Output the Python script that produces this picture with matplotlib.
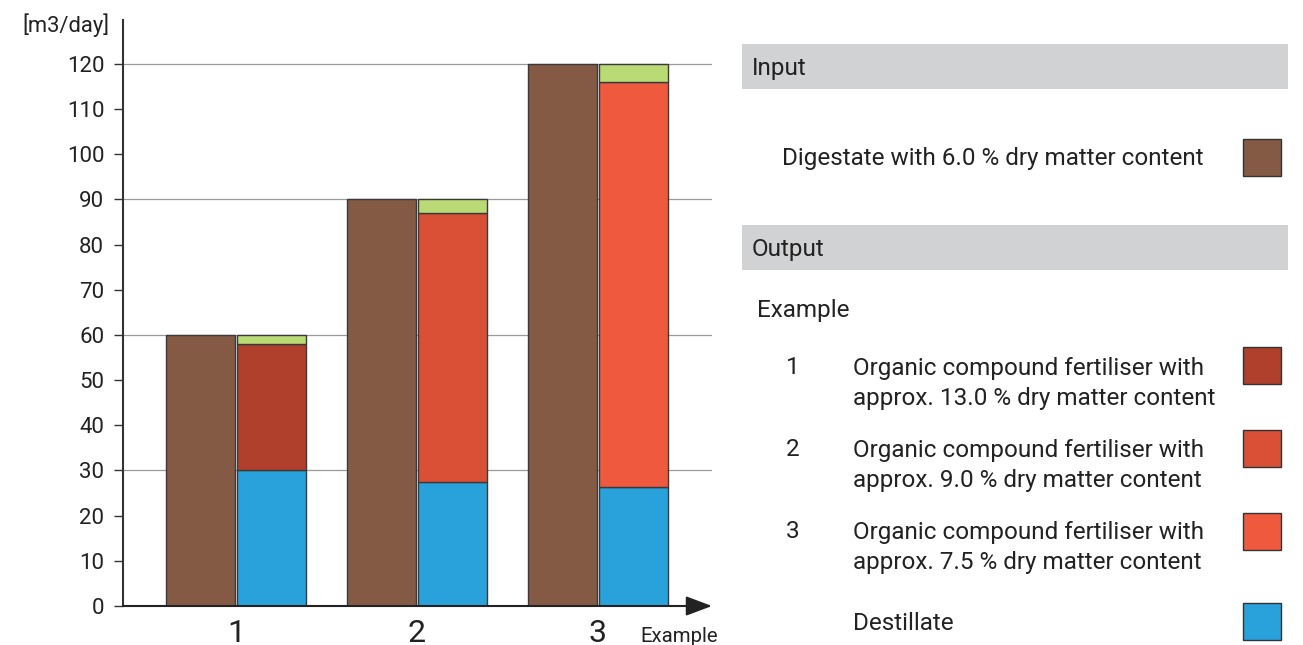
import matplotlib
matplotlib.use("Agg")
import matplotlib.pyplot as plt
from matplotlib.patches import Rectangle
import numpy as np

plt.rcParams['font.family'] = ['Roboto', 'DejaVu Sans']

# ---- data ----
examples = ['1', '2', '3']
digestate = [60, 90, 120]          # input
destillate = [30, 27.4, 26.4]      # output: destillate
fertiliser = [28, 59.6, 89.6]      # output: organic compound fertiliser
remainder = [2, 3, 4]              # green top segment
y_ticks = list(range(0, 130, 10))
grid_vals = [30, 60, 90, 120]

fert_colors = ['#B03F2B', '#DA5036', '#EF5A3F']
brown = '#845A45'
blue = '#29A2DC'
green = '#B9DA75'
edge = '#3a3a3a'

W, H = 1303, 645
fig = plt.figure(figsize=(W / 100, H / 100), dpi=100)

def fx(px):
    return px / W

def fy(py):
    return 1 - py / H

LFS = 17.5  # legend font size
DY = 2      # small vertical nudge for legend text

# axes placement
ax = fig.add_axes([fx(123), fy(606), fx(712) - fx(123), fy(20) - fy(606)])
x = np.arange(len(examples))
w = 0.381
off = 0.196

ax.bar(x - off, digestate, w, color=brown, edgecolor=edge, linewidth=1.0, zorder=3)
ax.bar(x + off, destillate, w, color=blue, edgecolor=edge, linewidth=1.0, zorder=3)
bottom2 = np.array(destillate)
ax.bar(x + off, fertiliser, w, bottom=bottom2, color=fert_colors, edgecolor=edge, linewidth=1.0, zorder=3)
bottom3 = bottom2 + np.array(fertiliser)
ax.bar(x + off, remainder, w, bottom=bottom3, color=green, edgecolor=edge, linewidth=1.0, zorder=3)

for g in grid_vals:
    ax.axhline(g, color='#9a9a9a', lw=0.9, zorder=1)

ax.set_xlim(-0.624, 2.63)
ax.set_ylim(0, 129.7)
ax.set_yticks(y_ticks)
ax.set_yticklabels([str(t) for t in y_ticks], fontsize=16, color='#222')
ax.tick_params(axis='y', length=6.5, width=1.0, color='#333', pad=7)
ax.set_xticks(x)
ax.set_xticklabels(examples, fontsize=23, color='#222')
ax.tick_params(axis='x', length=0, pad=9)

for s in ['top', 'right', 'bottom']:
    ax.spines[s].set_visible(False)
ax.spines['left'].set_color('#333')
ax.spines['left'].set_linewidth(1.5)

ax.annotate('', xy=(1.0, 0), xytext=(0, 0), xycoords=('axes fraction', 'data'),
            textcoords=('axes fraction', 'data'),
            arrowprops=dict(arrowstyle='-|>,head_length=0.8,head_width=0.3',
                            mutation_scale=20, lw=1.5, color='#222',
                            shrinkA=0, shrinkB=0), annotation_clip=False, zorder=5)

fig.text(fx(109), fy(25), '[m3/day]', ha='right', va='center', fontsize=15.8, color='#222')
fig.text(fx(718), fy(637), 'Example', ha='right', va='center', fontsize=14.7, color='#222')

# ---- legend panel ----
def band(y0, y1, label):
    fig.patches.append(Rectangle((fx(742), fy(y1)), fx(1288) - fx(742), fy(y0) - fy(y1),
                                 transform=fig.transFigure, facecolor='#D1D2D4', edgecolor='none'))
    fig.text(fx(752), fy((y0 + y1) / 2 + DY), label, ha='left', va='center', fontsize=LFS, color='#222')

def swatch(y0, color):
    fig.patches.append(Rectangle((fx(1243), fy(y0 + 37)), fx(38), 37 / H,
                                 transform=fig.transFigure, facecolor=color,
                                 edgecolor='#333', linewidth=1.0))

band(44, 89, 'Input')
fig.text(fx(782), fy(157 + DY), 'Digestate with 6.0 % dry matter content', ha='left', va='center',
         fontsize=LFS, color='#222')
swatch(139, brown)

band(225, 270, 'Output')
fig.text(fx(757), fy(309 + DY), 'Example', ha='left', va='center', fontsize=LFS, color='#222')

fert_labels = ['approx. 13.0 % dry matter content',
               'approx. 9.0 % dry matter content',
               'approx. 7.5 % dry matter content']
rows_y = [366, 448, 530]
sw_y = [347, 430, 513]
for i in range(3):
    fig.text(fx(793), fy(rows_y[i] + DY), examples[i], ha='center', va='center', fontsize=LFS, color='#222')
    fig.text(fx(853), fy(rows_y[i] + DY), 'Organic compound fertiliser with', ha='left', va='center',
             fontsize=LFS, color='#222')
    fig.text(fx(853), fy(rows_y[i] + 31 + DY), fert_labels[i], ha='left', va='center',
             fontsize=LFS, color='#222')
    swatch(sw_y[i], fert_colors[i])

fig.text(fx(853), fy(622 + DY), 'Destillate', ha='left', va='center', fontsize=LFS, color='#222')
swatch(603, blue)

fig.savefig('out.png', dpi=100)
